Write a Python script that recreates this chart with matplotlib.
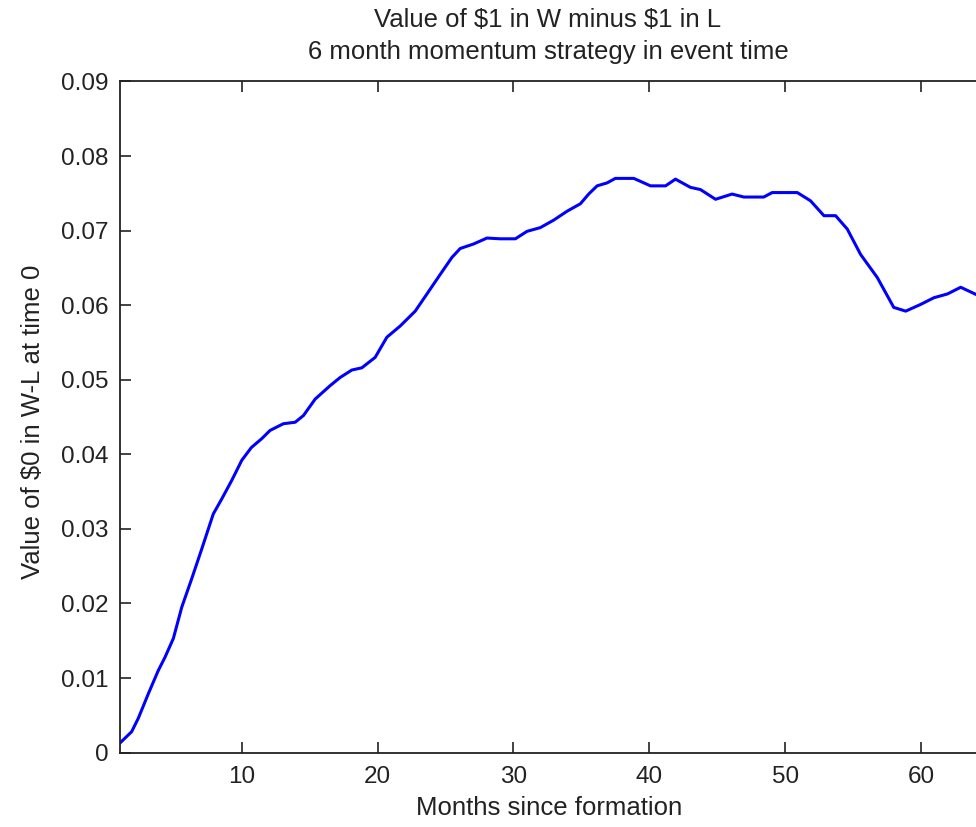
import matplotlib
matplotlib.use("Agg")
import matplotlib.pyplot as plt

# values (months since formation, value of W-L)
months = [1.0, 1.89, 2.38, 3.12, 3.85, 4.35, 4.96, 5.58, 6.31, 7.05, 7.9,
          8.52, 9.26, 10.0, 10.7, 11.47, 12.08, 13.06, 13.93, 14.54, 15.4,
          16.5, 17.24, 18.1, 18.84, 19.82, 20.68, 21.66, 22.77, 23.63, 24.6,
          25.47, 26.08, 27.06, 28.05, 29.03, 30.14, 31.0, 31.98, 32.96, 33.95,
          34.93, 35.54, 36.16, 36.9, 37.5, 38.86, 39.6, 40.09, 41.2, 41.93,
          43.03, 43.77, 44.88, 46.1, 46.96, 48.43, 49.05, 50.9, 51.87, 52.86,
          53.72, 54.58, 55.56, 56.79, 58.0, 58.88, 59.98, 60.96, 61.95, 62.93,
          64.1]
value = [0.00123, 0.0028, 0.0046, 0.0079, 0.0110, 0.0128, 0.0153, 0.0195,
         0.0233, 0.0273, 0.0320, 0.0340, 0.0365, 0.0392, 0.0409, 0.0421,
         0.0432, 0.0441, 0.0443, 0.0452, 0.0474, 0.0492, 0.0503, 0.0513,
         0.0516, 0.0530, 0.0557, 0.0572, 0.0592, 0.0615, 0.0641, 0.0664,
         0.0676, 0.0682, 0.0690, 0.0689, 0.0689, 0.0699, 0.0704, 0.0714,
         0.0726, 0.0736, 0.0749, 0.0760, 0.0764, 0.0770, 0.0770, 0.0764,
         0.0760, 0.0760, 0.0769, 0.0758, 0.0755, 0.0742, 0.0749, 0.0745,
         0.0745, 0.0751, 0.0751, 0.0740, 0.0720, 0.0720, 0.0702, 0.0668,
         0.0637, 0.0597, 0.0592, 0.0601, 0.0610, 0.0615, 0.0624, 0.0614]

x_ticks = [10, 20, 30, 40, 50, 60]
y_ticks = [0, 0.01, 0.02, 0.03, 0.04, 0.05, 0.06, 0.07, 0.08, 0.09]
y_labels = ["0", "0.01", "0.02", "0.03", "0.04", "0.05", "0.06", "0.07", "0.08", "0.09"]

plt.rcParams["font.family"] = ["Liberation Sans", "DejaVu Sans"]
plt.rcParams["text.parse_math"] = False

ink = "#222222"

fig = plt.figure(figsize=(9.76, 8.27), dpi=100)
ax = fig.add_axes([0.1225, 0.0900, 0.8795, 0.8115])

ax.plot(months, value, color="#0000ff", linewidth=2.2)

ax.set_xlim(1, 64.2)
ax.set_ylim(0, 0.09)
ax.set_xticks(x_ticks)
ax.set_yticks(y_ticks)
ax.set_yticklabels(y_labels)

ax.tick_params(direction="in", length=8, width=1.2, labelsize=17.5,
               top=True, right=False, colors=ink)
ax.tick_params(axis="x", pad=10)
ax.tick_params(axis="y", pad=8)
for s in ax.spines.values():
    s.set_linewidth(1.3)
    s.set_color(ink)

# two title lines placed over the centre of the axes
fig.text(0.5615, 1 - 20 / 827, "Value of $1 in W minus $1 in L",
         ha="center", va="center", fontsize=18.5, color=ink)
fig.text(0.5615, 1 - 52 / 827, "6 month momentum strategy in event time",
         ha="center", va="center", fontsize=18.5, color=ink)

ax.set_xlabel("Months since formation", fontsize=18.5, color=ink, va="center")
ax.xaxis.set_label_coords(0.5, -0.0827)
ax.set_ylabel("Value of $0 in W-L at time 0", fontsize=18.5, color=ink, va="center")
ax.yaxis.set_label_coords(-0.101, 0.493)

fig.savefig("out.png", dpi=100)
